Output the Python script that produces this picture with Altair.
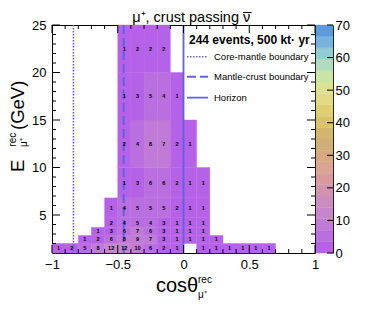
import altair as alt
import pandas as pd

FONT = "Liberation Sans"

# ---- data ----
cos_edges = [-1.0, -0.9, -0.8, -0.7, -0.6, -0.5, -0.4, -0.3, -0.2, -0.1, 0.0,
             0.1, 0.2, 0.3, 0.4, 0.5, 0.6, 0.7, 0.8, 0.9, 1.0]
e_edges = [1.0, 2.0, 2.85, 3.7, 4.7, 6.8, 10.0, 15.0, 20.0, 25.0]
counts = [
    [1, 2, 5, 8, 12, 12, 10, 6, 2, 1, 0, 1, 1, 1, 1, 1, 1, 0, 0, 0],
    [0, 0, 1, 2, 6, 8, 9, 7, 3, 1, 1, 1, 1, 0, 0, 0, 0, 0, 0, 0],
    [0, 0, 0, 1, 3, 6, 7, 6, 3, 1, 1, 1, 0, 0, 0, 0, 0, 0, 0, 0],
    [0, 0, 0, 0, 2, 4, 5, 4, 3, 1, 1, 1, 0, 0, 0, 0, 0, 0, 0, 0],
    [0, 0, 0, 0, 1, 4, 5, 5, 5, 2, 1, 1, 0, 0, 0, 0, 0, 0, 0, 0],
    [0, 0, 0, 0, 0, 1, 3, 6, 6, 2, 1, 1, 0, 0, 0, 0, 0, 0, 0, 0],
    [0, 0, 0, 0, 0, 2, 4, 8, 7, 2, 1, 0, 0, 0, 0, 0, 0, 0, 0, 0],
    [0, 0, 0, 0, 0, 1, 3, 5, 4, 1, 0, 0, 0, 0, 0, 0, 0, 0, 0, 0],
    [0, 0, 0, 0, 0, 1, 2, 2, 2, 0, 0, 0, 0, 0, 0, 0, 0, 0, 0, 0],
]
core_mantle = [-0.837]
mantle_crust = [-0.455]
horizon = [0.0]

x_major = [-1.0, -0.5, 0.0, 0.5, 1.0]
x_minor = [-0.9, -0.8, -0.7, -0.6, -0.4, -0.3, -0.2, -0.1, 0.1, 0.2, 0.3, 0.4,
           0.6, 0.7, 0.8, 0.9]
y_major = [5, 10, 15, 20, 25]
y_minor = [2, 3, 4, 6, 7, 8, 9, 11, 12, 13, 14, 16, 17, 18, 19, 21, 22, 23, 24]
z_major = [0, 10, 20, 30, 40, 50, 60, 70]

band_colors = ["#b562e8", "#ba6fe0", "#c07bd6", "#c786cb", "#cc8dbd", "#d293ae",
               "#d89a9f", "#dba393", "#d6a983", "#d0ae78", "#d2b56e", "#d9c26c",
               "#dfcf74", "#e1da84", "#dbe295", "#cbe3a8", "#b1dbbd", "#94cad2",
               "#78b3de", "#5b9bdc"]

W, H = 263, 228
LINE_COL = "#5f5fe8"

rows = []
for i, row in enumerate(counts):
    for j, c in enumerate(row):
        if c > 0:
            rows.append(dict(lo=cos_edges[j], hi=cos_edges[j + 1],
                             elo=e_edges[i], ehi=e_edges[i + 1],
                             cx=(cos_edges[j] + cos_edges[j + 1]) / 2,
                             cy=(e_edges[i] + e_edges[i + 1]) / 2,
                             count=c))
df = pd.DataFrame(rows)

xs = alt.Scale(domain=[-1, 1], nice=False, zero=False)
ys = alt.Scale(domain=[1, 25], nice=False, zero=False)
cs = alt.Scale(type="quantize", domain=[0, 70], range=band_colors)

x_axis = alt.Axis(values=x_major, format="~g", title=None, ticks=False, domain=False,
                  grid=False, labelFontSize=13, labelPadding=5, labelFlush=False,
                  labelOverlap=False, labelColor="black", labelFont=FONT)
y_axis = alt.Axis(values=y_major, format="d", title=None, ticks=False, domain=False,
                  grid=False, labelFontSize=13, labelPadding=6, labelOverlap=False,
                  labelColor="black", labelFont=FONT)

X = lambda f: alt.X(f, scale=xs, axis=x_axis, title=None)
Y = lambda f: alt.Y(f, scale=ys, axis=y_axis, title=None)

rects = alt.Chart(df).mark_rect(strokeWidth=0.4).encode(
    x=X("lo:Q"), x2="hi:Q",
    y=Y("elo:Q"), y2="ehi:Q",
    color=alt.Color("count:Q", scale=cs, legend=None),
    stroke=alt.Stroke("count:Q", scale=cs, legend=None),
)

nums = alt.Chart(df).mark_text(fontSize=5.5, fontWeight="bold", font=FONT,
                               color="black", align="center", baseline="middle").encode(
    x=X("cx:Q"), y=Y("cy:Q"), text="count:Q",
)

def vline(vals, dash, width):
    d = pd.DataFrame({"v": vals})
    m = alt.Chart(d).mark_rule(color=LINE_COL, strokeWidth=width, strokeDash=dash)
    return m.encode(x=X("v:Q"), y=alt.value(0), y2=alt.value(H))

l_core = vline(core_mantle, [1.5, 1.5], 1.5)
l_mc = vline(mantle_crust, [9, 4], 2)
l_hor = vline(horizon, [1, 0], 1.8)

def xticks(vals, L):
    d = pd.DataFrame({"v": vals})
    b = alt.Chart(d).mark_rule(color="black", strokeWidth=1).encode(
        x=X("v:Q"), y=alt.value(H), y2=alt.value(H - L))
    t = alt.Chart(d).mark_rule(color="black", strokeWidth=1).encode(
        x=X("v:Q"), y=alt.value(0), y2=alt.value(L))
    return [b, t]

def yticks(vals, L):
    d = pd.DataFrame({"v": vals})
    l = alt.Chart(d).mark_rule(color="black", strokeWidth=1).encode(
        y=Y("v:Q"), x=alt.value(0), x2=alt.value(L))
    r = alt.Chart(d).mark_rule(color="black", strokeWidth=1).encode(
        y=Y("v:Q"), x=alt.value(W), x2=alt.value(W - L))
    return [l, r]

def txt(s, x, y, size, angle=0, align="left", baseline="alphabetic", weight="normal"):
    d = pd.DataFrame({"t": [s]})
    kw = dict(fontSize=size, font=FONT, color="black", align=align,
              baseline=baseline, fontWeight=weight)
    if angle:
        kw["angle"] = angle
    return alt.Chart(d).mark_text(**kw).encode(text="t:N", x=alt.value(x), y=alt.value(y))

texts = [
    txt("μ⁺, crust passing", 187, -3.5, 14.5, align="right"),
    txt("ν", 191, -3.5, 14.5),
    txt("cosθ", 104, 267, 20),
    txt("rec", 146, 258, 10),
    txt("μ⁺", 146, 273, 10),
    txt("E", -28, 147, 18.5, angle=270),
    txt("rec", -36.5, 121.7, 10, angle=270),
    txt("μ⁺", -25.5, 122, 10, angle=270),
    txt("(GeV)", -28, 105, 18.5, angle=270),
    txt("244 events, 500 kt· yr", 137, 19, 12, weight="bold"),
    txt("Core-mantle boundary", 162, 31.7, 9.5, baseline="middle"),
    txt("Mantle-crust boundary", 162, 51.7, 9.5, baseline="middle"),
    txt("Horizon", 162, 72.7, 9.5, baseline="middle"),
]

def segment(x1, x2, y, dash, width, color):
    d = pd.DataFrame({"t": [0]})
    return alt.Chart(d).mark_rule(color=color, strokeWidth=width, strokeDash=dash).encode(
        x=alt.value(x1), x2=alt.value(x2), y=alt.value(y))

legs = [segment(135, 156, 31.7, [1.5, 1.5], 1.5, LINE_COL),
        segment(135, 156, 51.7, [9, 4], 2, LINE_COL),
        segment(135, 156, 72.7, [1, 0], 1.8, LINE_COL)]
nubar = segment(191, 199.5, -12.5, [1, 0], 1, "black")

main = alt.layer(rects, l_core, l_mc, l_hor, nums,
                 *xticks(x_major, 8), *xticks(x_minor, 4),
                 *yticks(y_major, 8), *yticks(y_minor, 4),
                 *legs, nubar, *texts)

# ---- colour bar ----
band_lo = [i * 3.5 for i in range(20)]
bar_df = pd.DataFrame({"blo": band_lo, "bhi": [b + 3.5 for b in band_lo],
                       "bmid": [b + 1.75 for b in band_lo]})
bar_axis = alt.Axis(orient="right", offset=18, values=z_major, format="d", title=None,
                    ticks=False, domain=True, domainColor="black", domainWidth=1,
                    grid=False, labelFontSize=13, labelPadding=2, labelColor="black",
                    labelFont=FONT, labelOverlap=False, labelFlush=False)
zs = alt.Scale(domain=[0, 70], nice=False, zero=False)
bar = alt.Chart(bar_df).mark_rect(strokeWidth=0.4).encode(
    x=alt.value(264), x2=alt.value(281),
    y=alt.Y("blo:Q", scale=zs, axis=bar_axis, title=None), y2="bhi:Q",
    color=alt.Color("bmid:Q", scale=cs, legend=None),
    stroke=alt.Stroke("bmid:Q", scale=cs, legend=None),
)
ztick = alt.Chart(pd.DataFrame({"z": z_major})).mark_rule(color="black").encode(
    y=alt.Y("z:Q", scale=zs, axis=bar_axis, title=None),
    x=alt.value(275), x2=alt.value(281))
barl = alt.layer(bar, ztick)

chart = alt.layer(main, barl).resolve_scale(y="independent").properties(
    width=W, height=H,
    autosize=alt.AutoSizeParams(type="none"),
    padding={"left": 44, "top": 17, "right": 43, "bottom": 48},
).configure_view(stroke="black", strokeWidth=1)

chart.save("out.html", embed_options={"renderer": "svg", "actions": False})
